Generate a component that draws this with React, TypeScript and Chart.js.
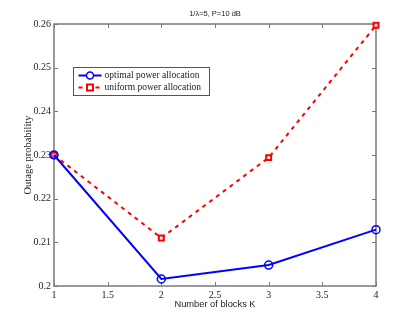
import { useEffect, useRef } from 'react';
import { Chart, registerables } from 'chart.js';

Chart.register(...registerables);

const blocksK = [1, 2, 3, 4];
const optimalOutage = [0.23, 0.2016, 0.2048, 0.2129];
const uniformOutage = [0.23, 0.211, 0.2294, 0.2597];
const seriesNames = ['optimal power allocation', 'uniform power allocation'];
const chartTitle = '1/λ=5, P=10 dB';
const xTitle = 'Number of blocks K';
const yTitle = 'Outage probability';
const xTicks = [1, 1.5, 2, 2.5, 3, 3.5, 4];
const yTicks = [0.2, 0.21, 0.22, 0.23, 0.24, 0.25, 0.26];

const BLUE = '#0000ff';
const RED = '#ff0000';
const AXIS = '#7a7a7a';
const TEXT = '#222222';
const SERIF = '"Liberation Serif", "DejaVu Serif", serif';
const SANS = '"Liberation Sans", Arial, sans-serif';

const boxPlugin = {
  id: 'matlabBox',
  beforeDatasetsDraw(chart: any) {
    const { ctx, chartArea } = chart;
    const { left, right, top, bottom } = chartArea;
    const xs = chart.scales.x;
    const ys = chart.scales.y;
    ctx.save();
    ctx.strokeStyle = AXIS;
    ctx.lineWidth = 1.5;
    ctx.strokeRect(left, top, right - left, bottom - top);
    ctx.lineWidth = 1;
    const tl = 4;
    ctx.beginPath();
    xTicks.forEach((v) => {
      const px = Math.round(xs.getPixelForValue(v)) + 0.5;
      ctx.moveTo(px, bottom);
      ctx.lineTo(px, bottom - tl);
      ctx.moveTo(px, top);
      ctx.lineTo(px, top + tl);
    });
    yTicks.forEach((v) => {
      const py = Math.round(ys.getPixelForValue(v)) + 0.5;
      ctx.moveTo(left, py);
      ctx.lineTo(left + tl, py);
      ctx.moveTo(right, py);
      ctx.lineTo(right - tl, py);
    });
    ctx.stroke();
    ctx.restore();
  },
  afterDraw(chart: any) {
    const { ctx, chartArea } = chart;
    const { left, right, top } = chartArea;
    ctx.save();
    // title
    ctx.fillStyle = TEXT;
    ctx.font = `7.5px ${SANS}`;
    ctx.textAlign = 'center';
    ctx.textBaseline = 'middle';
    ctx.fillText(chartTitle, (left + right) / 2, top - 10);

    // legend
    const bx = left + 19.5;
    const by = top + 43.5;
    const bw = 136;
    const bh = 28;
    ctx.fillStyle = '#ffffff';
    ctx.fillRect(bx, by, bw, bh);
    ctx.strokeStyle = '#555555';
    ctx.lineWidth = 1;
    ctx.strokeRect(bx, by, bw, bh);

    const rows = [
      { y: by + 8, color: BLUE, dash: [] as number[], marker: 'circle' },
      { y: by + 20, color: RED, dash: [4, 4.5], marker: 'rect' },
    ];
    rows.forEach((r, i) => {
      const x0 = bx + 5;
      const x1 = bx + 28;
      const mx = (x0 + x1) / 2;
      ctx.strokeStyle = r.color;
      ctx.lineWidth = 2;
      ctx.setLineDash(r.dash);
      ctx.beginPath();
      ctx.moveTo(x0, r.y);
      ctx.lineTo(x1, r.y);
      ctx.stroke();
      ctx.setLineDash([]);
      if (r.marker === 'circle') {
        ctx.fillStyle = '#ffffff';
        ctx.beginPath();
        ctx.arc(mx, r.y, 3.5, 0, Math.PI * 2);
        ctx.fill();
        ctx.lineWidth = 1.5;
        ctx.stroke();
      } else {
        ctx.fillStyle = '#ffffff';
        ctx.fillRect(mx - 3.5, r.y - 3.5, 7, 7);
        ctx.lineWidth = 2;
        ctx.strokeRect(mx - 3, r.y - 3, 6, 6);
      }
      ctx.fillStyle = TEXT;
      ctx.font = `9.5px ${SERIF}`;
      ctx.textAlign = 'left';
      ctx.textBaseline = 'middle';
      ctx.fillText(seriesNames[i], bx + 31, r.y);
    });
    ctx.restore();
  },
};

export default function App() {
  const ref = useRef<HTMLCanvasElement | null>(null);

  useEffect(() => {
    if (!ref.current) return;
    const chart = new Chart(ref.current, {
      type: 'line',
      data: {
        datasets: [
          {
            label: seriesNames[0],
            data: blocksK.map((k, i) => ({ x: k, y: optimalOutage[i] })),
            borderColor: BLUE,
            backgroundColor: 'rgba(0,0,0,0)',
            borderWidth: 2,
            pointStyle: 'circle',
            pointRadius: 4,
            pointBorderWidth: 1.5,
            pointBorderColor: BLUE,
            pointBackgroundColor: 'rgba(0,0,0,0)',
            tension: 0,
            clip: false as any,
          },
          {
            label: seriesNames[1],
            data: blocksK.map((k, i) => ({ x: k, y: uniformOutage[i] })),
            borderColor: RED,
            backgroundColor: 'rgba(0,0,0,0)',
            borderWidth: 2,
            borderDash: [4, 4.5],
            pointStyle: 'rect',
            pointRadius: 3.5,
            pointBorderWidth: 2,
            pointBorderColor: RED,
            pointBackgroundColor: 'rgba(255,255,255,0.6)',
            tension: 0,
            clip: false as any,
          },
        ],
      },
      options: {
        responsive: false,
        animation: false,
        layout: { padding: { left: 0, right: 39, top: 24, bottom: 0 } },
        plugins: {
          legend: { display: false },
          title: { display: false },
          tooltip: { enabled: false },
        },
        scales: {
          x: {
            type: 'linear',
            min: 1,
            max: 4,
            afterBuildTicks: (s: any) => {
              s.ticks = xTicks.map((v) => ({ value: v }));
            },
            afterFit: (s: any) => {
              s.height = 36;
            },
            grid: { display: false, drawTicks: false },
            border: { display: false },
            ticks: {
              padding: 3,
              color: TEXT,
              font: { family: SERIF, size: 10 },
              maxRotation: 0,
              callback: (v: any) => String(Number(Number(v).toFixed(2))),
            },
            title: {
              display: true,
              text: xTitle,
              color: TEXT,
              font: { family: SANS, size: 9.3 },
              padding: { top: 0, bottom: 12 },
            },
          },
          y: {
            type: 'linear',
            min: 0.2,
            max: 0.26,
            afterBuildTicks: (s: any) => {
              s.ticks = yTicks.map((v) => ({ value: v }));
            },
            afterFit: (s: any) => {
              s.width = 54;
            },
            grid: { display: false, drawTicks: false },
            border: { display: false },
            ticks: {
              padding: 3,
              color: TEXT,
              font: { family: SERIF, size: 10 },
              callback: (v: any) => String(Number(Number(v).toFixed(2))),
            },
            title: {
              display: true,
              text: yTitle,
              color: TEXT,
              font: { family: SERIF, size: 10.5 },
              padding: { top: 22, bottom: 0 },
            },
          },
        },
      },
      plugins: [boxPlugin],
    } as any);
    return () => chart.destroy();
  }, []);

  return (
    <div style={{ position: 'fixed', left: 0, top: 0, width: 415, height: 322, background: '#fff' }}>
      <canvas ref={ref} width={415} height={322} style={{ display: 'block' }} />
    </div>
  );
}
